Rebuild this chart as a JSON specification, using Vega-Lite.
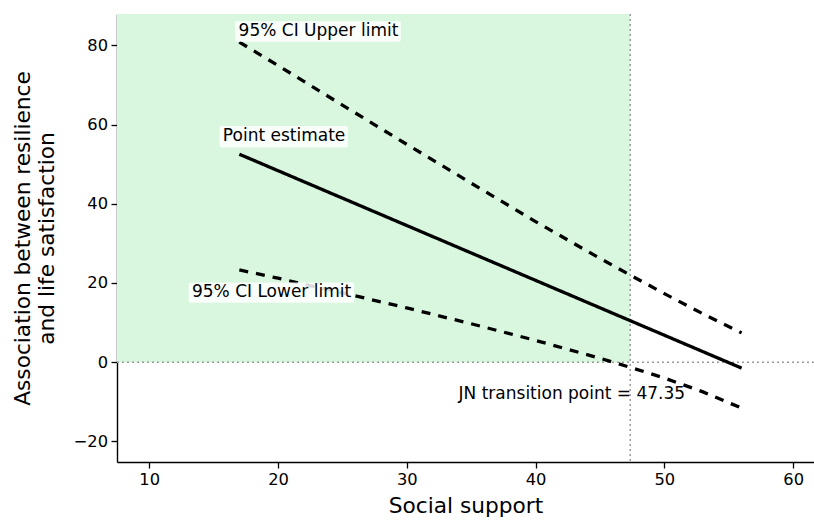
{
  "$schema": "https://vega.github.io/schema/vega-lite/v6.json",
  "width": 697,
  "height": 448,
  "autosize": {"type": "none"},
  "padding": {"left": 117, "top": 14, "right": 0, "bottom": 59},
  "background": "white",
  "config": {
    "view": {"stroke": null},
    "font": "DejaVu Sans",
    "axis": {
      "grid": false,
      "domainColor": "black",
      "domainWidth": 1.4,
      "tickColor": "black",
      "tickWidth": 1.3,
      "tickSize": 6,
      "labelPadding": 3.5,
      "labelFontSize": 16.3,
      "labelColor": "black",
      "labelFont": "DejaVu Sans",
      "titleFont": "DejaVu Sans",
      "titleFontSize": 21.7,
      "titleFontWeight": "normal",
      "titleColor": "black"
    }
  },
  "datasets": {
    "lines": [
      {"series": "Point estimate", "x": 17, "y": 52.5},
      {"series": "Point estimate", "x": 56, "y": -1.5},
      {"series": "Upper", "x": 17, "y": 80.8},
      {"series": "Upper", "x": 20, "y": 74.9},
      {"series": "Upper", "x": 25, "y": 64.9},
      {"series": "Upper", "x": 30, "y": 55.0},
      {"series": "Upper", "x": 35, "y": 45.2},
      {"series": "Upper", "x": 40, "y": 35.5},
      {"series": "Upper", "x": 45, "y": 26.2},
      {"series": "Upper", "x": 47.35, "y": 22.0},
      {"series": "Upper", "x": 50, "y": 17.3},
      {"series": "Upper", "x": 53, "y": 12.2},
      {"series": "Upper", "x": 56, "y": 7.4},
      {"series": "Lower", "x": 17, "y": 23.3},
      {"series": "Lower", "x": 20, "y": 21.2},
      {"series": "Lower", "x": 25, "y": 17.5},
      {"series": "Lower", "x": 30, "y": 13.7},
      {"series": "Lower", "x": 35, "y": 9.7},
      {"series": "Lower", "x": 40, "y": 5.5},
      {"series": "Lower", "x": 45, "y": 1.0},
      {"series": "Lower", "x": 47.35, "y": -1.3},
      {"series": "Lower", "x": 50, "y": -4.0},
      {"series": "Lower", "x": 53, "y": -7.5},
      {"series": "Lower", "x": 56, "y": -11.6}
    ],
    "region": [{"x": 0, "x2": 47.35, "y": 0, "y2": 100}],
    "boxes": [
      {"x": 16.68, "x2": 29.54, "y": 86.1, "y2": 80.9},
      {"x": 15.46, "x2": 25.43, "y": 59.6, "y2": 54.2},
      {"x": 13.06, "x2": 25.92, "y": 20.1, "y2": 15.0}
    ],
    "labels": [
      {"label": "95% CI Upper limit", "x": 16.94, "y": 83.6},
      {"label": "Point estimate", "x": 15.72, "y": 57.0},
      {"label": "95% CI Lower limit", "x": 13.32, "y": 17.7},
      {"label": "JN transition point = 47.35", "x": 34.02, "y": -8.1}
    ]
  },
  "layer": [
    {
      "data": {"name": "region"},
      "mark": {"type": "rect", "color": "#d8f7de", "clip": true},
      "encoding": {
        "x": {"field": "x", "type": "quantitative", "scale": {"domain": [7.5, 61.62], "nice": false, "zero": false},
              "axis": {"values": [10, 20, 30, 40, 50, 60], "title": "Social support", "titlePadding": 8}},
        "x2": {"field": "x2"},
        "y": {"field": "y", "type": "quantitative", "scale": {"domain": [-25.2, 87.9], "nice": false, "zero": false},
              "axis": {"values": [-20, 0, 20, 40, 60, 80], "title": ["Association between resilience", "and life satisfaction"], "titlePadding": 15, "titleLineHeight": 24}},
        "y2": {"field": "y2"}
      }
    },
    {
      "data": {"values": [{"y": 0}]},
      "mark": {"type": "rule", "color": "#999999", "strokeWidth": 1.5, "strokeDash": [2, 3]},
      "encoding": {"y": {"field": "y", "type": "quantitative"}}
    },
    {
      "data": {"values": [{"x": 47.35}]},
      "mark": {"type": "rule", "color": "#999999", "strokeWidth": 1.5, "strokeDash": [2, 3]},
      "encoding": {"x": {"field": "x", "type": "quantitative"}}
    },
    {
      "data": {"name": "lines"},
      "mark": {"type": "line", "color": "black", "strokeWidth": 3.3, "strokeCap": "butt"},
      "encoding": {
        "x": {"field": "x", "type": "quantitative"},
        "y": {"field": "y", "type": "quantitative"},
        "detail": {"field": "series"},
        "strokeDash": {"field": "series", "type": "nominal",
                       "scale": {"domain": ["Point estimate", "Upper", "Lower"], "range": [[1, 0], [9, 8], [9, 8]]},
                       "legend": null}
      }
    },
    {
      "data": {"name": "boxes"},
      "mark": {"type": "rect", "color": "white", "opacity": 0.85, "cornerRadius": 2},
      "encoding": {
        "x": {"field": "x", "type": "quantitative"},
        "x2": {"field": "x2"},
        "y": {"field": "y", "type": "quantitative"},
        "y2": {"field": "y2"}
      }
    },
    {
      "data": {"name": "labels"},
      "mark": {"type": "text", "align": "left", "baseline": "middle", "fontSize": 17, "font": "DejaVu Sans", "color": "black"},
      "encoding": {
        "x": {"field": "x", "type": "quantitative"},
        "y": {"field": "y", "type": "quantitative"},
        "text": {"field": "label"}
      }
    }
  ]
}
